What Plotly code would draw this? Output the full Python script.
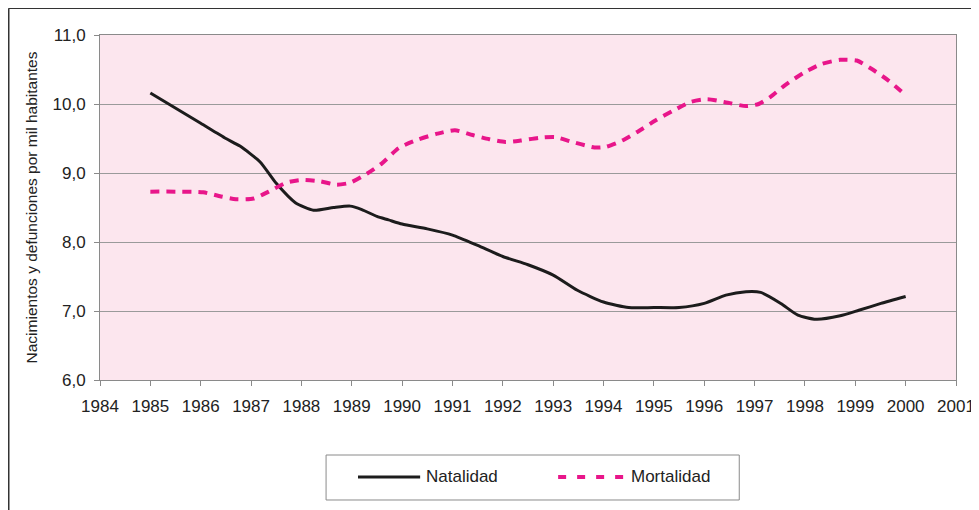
"""Natalidad y mortalidad por mil habitantes, 1985-2000."""

import plotly.graph_objects as go

# ── Data ─────────────────────────────────────────────────────────────────────
nat_years = [1985.0, 1986.0, 1986.5, 1986.78, 1987.18, 1987.5, 1987.88, 1988.24,
             1988.64, 1988.97, 1989.2, 1989.5, 1989.73, 1990.0, 1990.5, 1991.0,
             1991.5, 1992.0, 1992.5, 1993.0, 1993.48, 1994.0, 1994.5, 1995.0,
             1995.5, 1996.0, 1996.43, 1996.83, 1997.12, 1997.52, 1997.86,
             1998.22, 1998.7, 1999.07, 1999.51, 2000.0]
natalidad = [10.16, 9.72, 9.50, 9.39, 9.16, 8.85, 8.57, 8.46, 8.50, 8.52, 8.47,
             8.37, 8.32, 8.26, 8.19, 8.10, 7.95, 7.79, 7.67, 7.52, 7.30, 7.13,
             7.05, 7.05, 7.05, 7.11, 7.23, 7.28, 7.27, 7.11, 6.94, 6.88, 6.93,
             7.01, 7.11, 7.21]

mor_years = [1985.0, 1985.5, 1986.05, 1986.4, 1986.7, 1987.05, 1987.35, 1987.7,
             1988.0, 1988.37, 1988.7, 1988.97, 1989.3, 1989.6, 1989.93, 1990.3,
             1990.7, 1991.05, 1991.4, 1991.73, 1992.05, 1992.35, 1992.72,
             1993.05, 1993.38, 1993.82, 1994.05, 1994.37, 1994.66, 1995.03,
             1995.4, 1995.73, 1996.06, 1996.39, 1996.83, 1997.08, 1997.31,
             1997.6, 1997.97, 1998.33, 1998.7, 1999.03, 1999.32, 1999.66, 2000.0]
mortalidad = [8.73, 8.73, 8.72, 8.66, 8.62, 8.63, 8.73, 8.86, 8.90, 8.88, 8.83,
              8.86, 8.99, 9.14, 9.36, 9.48, 9.57, 9.62, 9.55, 9.49, 9.45, 9.47,
              9.51, 9.52, 9.45, 9.37, 9.38, 9.47, 9.59, 9.76, 9.91, 10.03, 10.07,
              10.03, 9.97, 10.00, 10.10, 10.27, 10.45, 10.58, 10.64, 10.63, 10.51,
              10.34, 10.13]

tick_years = list(range(1984, 2002))
y_ticks = [6, 7, 8, 9, 10, 11]

NAT_COLOR = "#1c1c1c"
MOR_COLOR = "#e8168a"
FONT = "Liberation Sans, Arial, sans-serif"

fig = go.Figure()
fig.add_trace(go.Scatter(
    x=nat_years, y=natalidad, name="Natalidad", mode="lines",
    line=dict(color=NAT_COLOR, width=3, shape="spline", smoothing=0.6),
    showlegend=False,
))
fig.add_trace(go.Scatter(
    x=mor_years, y=mortalidad, name="Mortalidad", mode="lines",
    line=dict(color=MOR_COLOR, width=4, dash="9px,7px", shape="spline", smoothing=0.6),
    showlegend=False,
))

# ── Hand-drawn legend box (matches the Excel-style legend) ──────────────────
leg_y = -0.281
shapes = [
    dict(type="rect", xref="paper", yref="paper", x0=0.2641, x1=0.7468,
         y0=-0.3478, y1=-0.2174, line=dict(color="#8a8a8a", width=1)),
    dict(type="line", xref="paper", yref="paper", x0=0.3014, x1=0.3740,
         y0=leg_y, y1=leg_y, line=dict(color=NAT_COLOR, width=3)),
    dict(type="line", xref="paper", yref="paper", x0=0.5352, x1=0.6170,
         y0=leg_y, y1=leg_y, line=dict(color=MOR_COLOR, width=4, dash="8px,11px")),
    # outer frame (left + top)
    dict(type="line", xref="paper", yref="paper", x0=-0.1066, x1=-0.1066,
         y0=1.0775, y1=-0.42, line=dict(color="#333333", width=1.5)),
    dict(type="line", xref="paper", yref="paper", x0=-0.1066, x1=1.06,
         y0=1.0775, y1=1.0775, line=dict(color="#333333", width=1.5)),
]
annotations = [
    dict(text="Natalidad", xref="paper", yref="paper", x=0.3790, y=leg_y,
         xanchor="left", yanchor="middle", showarrow=False,
         font=dict(size=17, color="#222222")),
    dict(text="Mortalidad", xref="paper", yref="paper", x=0.6175, y=leg_y,
         xanchor="left", yanchor="middle", showarrow=False,
         font=dict(size=17, color="#222222")),
]

# page body adds an 8px offset, so margins are shifted to compensate
fig.update_layout(
    width=979, height=510,
    margin=dict(l=92, r=31, t=27, b=138),
    paper_bgcolor="white",
    plot_bgcolor="#fce6ee",
    font=dict(family=FONT, size=17, color="#222222"),
    separators=",.",
    shapes=shapes,
    annotations=annotations,
    xaxis=dict(
        range=[1984, 2001], tickvals=tick_years, ticktext=[str(t) for t in tick_years],
        showgrid=False, zeroline=False,
        showline=True, linecolor="#8a8a8a", linewidth=1, mirror=True,
        ticks="outside", ticklen=5, tickcolor="#8a8a8a",
        tickfont=dict(size=17), ticklabelstandoff=6,
    ),
    yaxis=dict(
        range=[6, 11], tickvals=y_ticks, tickformat=".1f",
        showgrid=True, gridcolor="#9a9a9a", gridwidth=1, zeroline=False,
        showline=True, linecolor="#8a8a8a", linewidth=1, mirror=True,
        ticks="outside", ticklen=5, tickcolor="#8a8a8a",
        tickfont=dict(size=17), ticklabelstandoff=5,
        title=dict(text="Nacimientos y defunciones por mil habitantes",
                   font=dict(size=15.5), standoff=11),
    ),
)

fig.write_html("out.html")
